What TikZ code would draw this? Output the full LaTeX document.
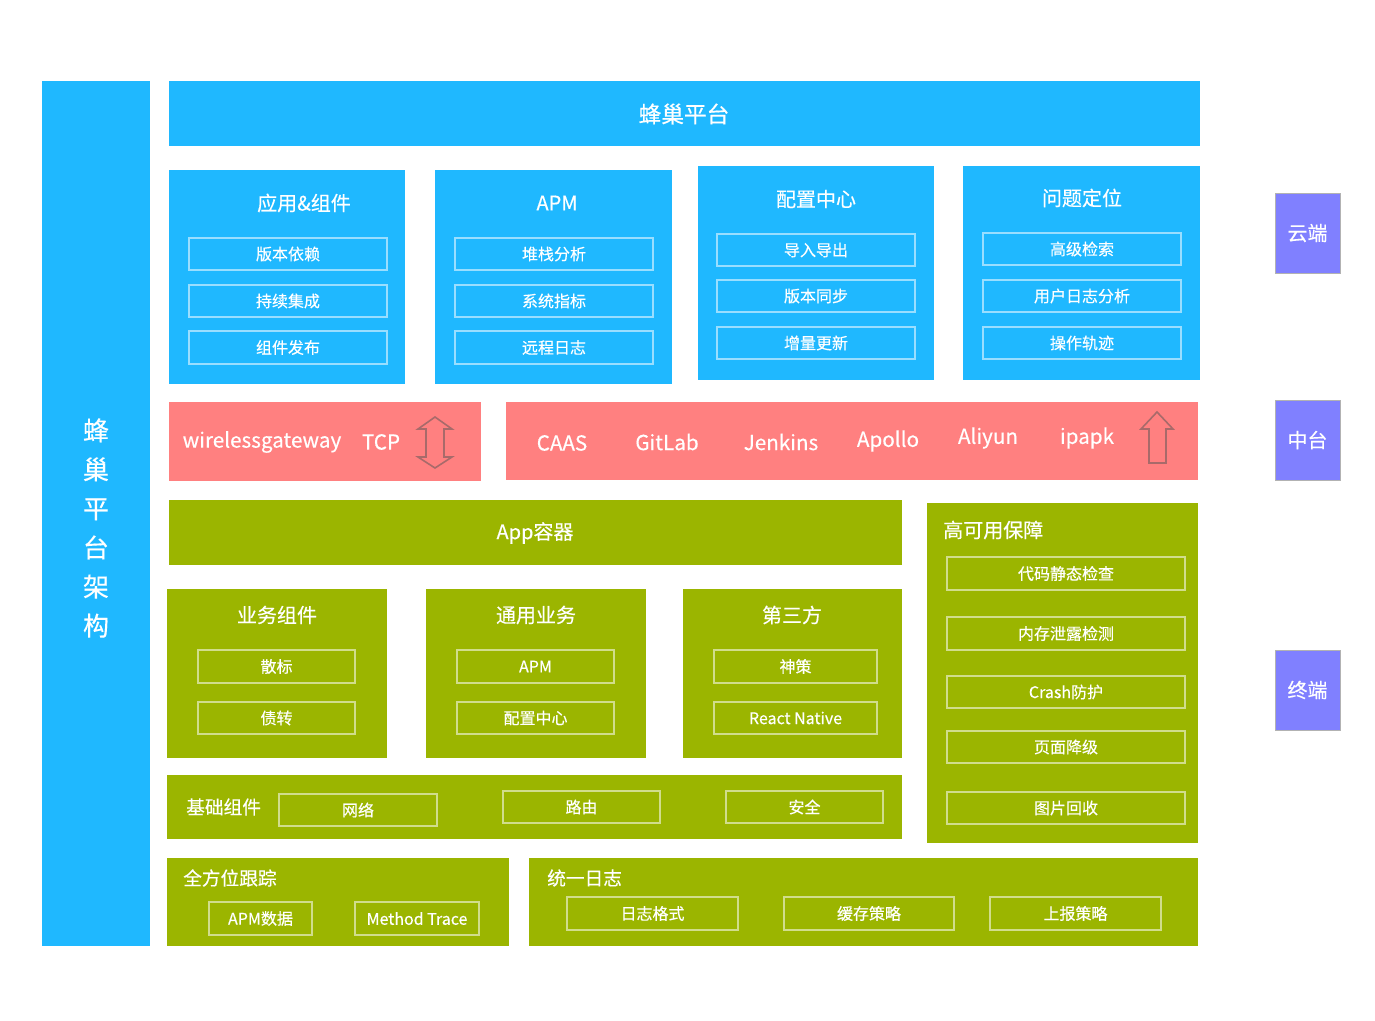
\documentclass[tikz,border=0pt]{standalone}
\usepackage{fontspec}
\newfontfamily\cjk[FakeBold=0.35]{Noto Sans CJK SC}
\definecolor{hiveblue}{HTML}{1FB8FF}
\definecolor{hivepink}{HTML}{FF8080}
\definecolor{hivegreen}{HTML}{9BB500}
\definecolor{hivepurple}{HTML}{8080FF}
\definecolor{arrowline}{HTML}{A86A6A}
\tikzset{
  inbox/.style={draw=white, draw opacity=0.55, line width=1.3pt},
  lbl/.style={text=white, inner sep=0pt, font=\cjk\fontsize{12}{14}\selectfont},
  ttl/.style={text=white, inner sep=0pt, font=\cjk\fontsize{15}{18}\selectfont},
  subttl/.style={text=white, inner sep=0pt, anchor=west, font=\cjk\fontsize{14}{17}\selectfont},
  tool/.style={text=white, inner sep=0pt, font=\cjk\fontsize{15.5}{18}\selectfont},
  fatarrow/.style={draw=arrowline, line width=1.2pt, line join=miter},
  tagbox/.style={fill=hivepurple, draw=black!30, line width=0.6pt}
}
% inner labelled box: name, x1, y1, x2, y2, text
\newcommand{\ibox}[6]{%
  \draw[inbox] (#2,#3) rectangle (#4,#5);
  \node[lbl] (#1) at ({(#2+#4)/2},{(#3+#5)/2}) {#6};}
\begin{document}
\begin{tikzpicture}[x=0.75pt,y=-0.75pt]
\useasboundingbox[fill=white] (0,0) rectangle (1375,1021);

% left column
\fill[hiveblue] (42,81) rectangle (150,946);
\node[text=white, align=center, inner sep=0pt, font=\cjk\fontsize{19.5}{29.3}\selectfont] (side) at (96,528) {蜂\\巢\\平\\台\\架\\构};

% cloud layer
\fill[hiveblue] (169,81) rectangle (1200,146);
\node[ttl, font=\cjk\fontsize{17}{20}\selectfont] (hive) at (684,114) {蜂巢平台};

\fill[hiveblue] (169,170) rectangle (405,384);
\node[ttl] (appcomp) at (304,203) {应用\&组件};
\ibox{dep}{189}{238}{387}{270}{版本依赖}
\ibox{ci}{189}{285}{387}{317}{持续集成}
\ibox{pub}{189}{331}{387}{364}{组件发布}

\fill[hiveblue] (435,170) rectangle (672,384);
\node[ttl] (apm) at (557,203) {APM};
\ibox{stack}{455}{238}{653}{270}{堆栈分析}
\ibox{sysidx}{455}{285}{653}{317}{系统指标}
\ibox{rlog}{455}{331}{653}{364}{远程日志}

\fill[hiveblue] (698,166) rectangle (934,380);
\node[ttl] (conf) at (816,199) {配置中心};
\ibox{imex}{717}{234}{915}{266}{导入导出}
\ibox{vsync}{717}{280}{915}{312}{版本同步}
\ibox{incr}{717}{327}{915}{359}{增量更新}

\fill[hiveblue] (963,166) rectangle (1200,380);
\node[ttl] (issue) at (1082,198) {问题定位};
\ibox{search}{983}{233}{1181}{265}{高级检索}
\ibox{ulog}{983}{280}{1181}{312}{用户日志分析}
\ibox{track}{983}{327}{1181}{359}{操作轨迹}

% middle layer
\fill[hivepink] (169,402) rectangle (481,481);
\node[tool] (gw) at (262,442) {wirelessgateway};
\node[tool] (tcp) at (381,442) {TCP};
\draw[fatarrow] (435,417) -- (452,429) -- (444,429) -- (444,457) -- (452,457) -- (435,468)
  -- (418,457) -- (426,457) -- (426,429) -- (418,429) -- cycle;

\fill[hivepink] (506,402) rectangle (1198,480);
\node[tool] (caas) at (562,443) {CAAS};
\node[tool] (gitlab) at (667,442) {GitLab};
\node[tool] (jenkins) at (781,442) {Jenkins};
\node[tool] (apollo) at (888,441) {Apollo};
\node[tool] (aliyun) at (988,438) {Aliyun};
\node[tool] (ipapk) at (1087,438) {ipapk};
\draw[fatarrow] (1157,412) -- (1173,429) -- (1166,429) -- (1166,463) -- (1149,463)
  -- (1149,429) -- (1141,429) -- cycle;

% terminal layer
\fill[hivegreen] (169,500) rectangle (902,565);
\node[ttl] (container) at (535,533) {App容器};

\fill[hivegreen] (167,589) rectangle (387,758);
\node[ttl] (biz) at (277,615) {业务组件};
\ibox{sanbiao}{198}{650}{355}{683}{散标}
\ibox{zhaizhuan}{198}{702}{355}{734}{债转}

\fill[hivegreen] (426,589) rectangle (646,758);
\node[ttl] (common) at (536,615) {通用业务};
\ibox{capm}{457}{650}{614}{683}{APM}
\ibox{cconf}{457}{702}{614}{734}{配置中心}

\fill[hivegreen] (683,589) rectangle (902,758);
\node[ttl] (third) at (792,615) {第三方};
\ibox{shence}{714}{650}{877}{683}{神策}
\ibox{rn}{714}{702}{877}{734}{React Native}

\fill[hivegreen] (167,775) rectangle (902,839);
\node[subttl] (base) at (186,807) {基础组件};
\ibox{net}{279}{794}{437}{826}{网络}
\ibox{route}{503}{791}{660}{823}{路由}
\ibox{safe}{726}{791}{883}{823}{安全}

\fill[hivegreen] (927,503) rectangle (1198,843);
\node[subttl, font=\cjk\fontsize{15}{18}\selectfont] (ha) at (943,530) {高可用保障};
\ibox{lint}{947}{557}{1185}{590}{代码静态检查}
\ibox{leak}{947}{617}{1185}{650}{内存泄露检测}
\ibox{crash}{947}{676}{1185}{708}{Crash防护}
\ibox{degrade}{947}{731}{1185}{763}{页面降级}
\ibox{img}{947}{792}{1185}{824}{图片回收}

\fill[hivegreen] (167,858) rectangle (509,946);
\node[subttl] (trace) at (183,878) {全方位跟踪};
\ibox{apmdata}{209}{902}{312}{935}{APM数据}
\ibox{mtrace}{355}{902}{479}{935}{Method Trace}

\fill[hivegreen] (529,858) rectangle (1198,946);
\node[subttl] (ulogs) at (547,878) {统一日志};
\ibox{fmt}{567}{897}{738}{930}{日志格式}
\ibox{cache}{784}{897}{954}{930}{缓存策略}
\ibox{report}{990}{897}{1161}{930}{上报策略}

% side tags
\draw[tagbox] (1275,193) rectangle (1340,273);
\node[ttl] (cloud) at (1307.5,233) {云端};
\draw[tagbox] (1275,400) rectangle (1340,480);
\node[ttl] (mid) at (1307.5,440) {中台};
\draw[tagbox] (1275,650) rectangle (1340,730);
\node[ttl] (term) at (1307.5,690) {终端};
\end{tikzpicture}
\end{document}
